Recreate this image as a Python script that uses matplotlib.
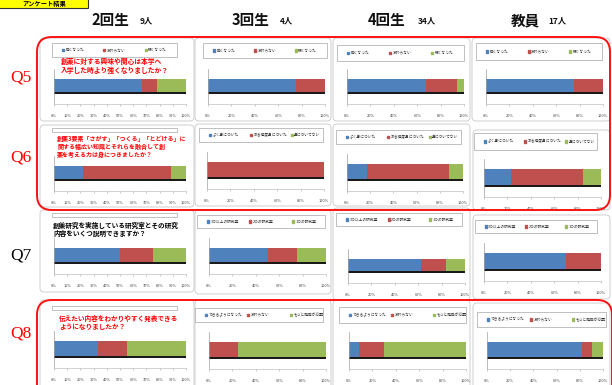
import matplotlib
matplotlib.use("Agg")
import matplotlib.pyplot as plt
from matplotlib.patches import FancyBboxPatch, Rectangle

plt.rcParams["font.family"] = ["Noto Sans CJK JP", "DejaVu Sans"]

W, H = 612, 385

# --- data -------------------------------------------------------------------
GROUPS = ["2回生", "3回生", "4回生", "教員"]
GROUP_N = ["9人", "4人", "34人", "17人"]
QUESTIONS = ["Q5", "Q6", "Q7", "Q8"]
Q_TITLES = [
    "創薬に対する興味や関心は本学へ\n入学した時より強くなりましたか？",
    "創薬3要素「さがす」「つくる」「とどける」に\n関する幅広い知識とそれらを融合して創\n薬を考える力は身につきましたか？",
    "創薬研究を実施している研究室とその研究\n内容をいくつ説明できますか？",
    "伝えたい内容をわかりやすく発表できる\nようになりましたか？",
]
COLORS = ["#4F81BD", "#C0504D", "#9BBB59"]

Q5_LABELS = ["強くなった", "変わらない", "弱くなった"]
Q6_LABELS = ["よく身についた", "ある程度身についた", "身についてない"]
Q7_LABELS = ["3つ以上の研究室", "2つの研究室", "1つの研究室"]
Q8_LABELS = ["できるようになった", "変わらない", "もっと勉強が必要"]

# percent of answers, in order 2回生, 3回生, 4回生, 教員
Q5_A = [66.7, 75.0, 67.6, 75.0]
Q5_B = [11.1, 25.0, 26.5, 25.0]
Q5_C = [22.2, 0.0, 5.9, 0.0]
Q6_A = [22.2, 0.0, 17.6, 23.5]
Q6_B = [66.7, 100.0, 70.6, 61.0]
Q6_C = [11.1, 0.0, 11.8, 15.5]
Q7_A = [50.0, 50.0, 62.5, 70.3]
Q7_B = [25.0, 25.0, 21.6, 29.7]
Q7_C = [25.0, 25.0, 15.9, 0.0]
Q8_A = [33.3, 0.0, 8.8, 82.3]
Q8_B = [22.2, 25.0, 21.5, 8.3]
Q8_C = [44.5, 75.0, 69.7, 9.4]

SERIES = [
    (Q5_LABELS, [Q5_A, Q5_B, Q5_C]),
    (Q6_LABELS, [Q6_A, Q6_B, Q6_C]),
    (Q7_LABELS, [Q7_A, Q7_B, Q7_C]),
    (Q8_LABELS, [Q8_A, Q8_B, Q8_C]),
]

# --- layout (pixels, y down) ------------------------------------------------
PANELS = [
    [(40, 38, 194, 121), (195, 38, 331, 121), (333, 38, 470, 121), (472, 38, 610, 121)],
    [(40, 125, 194, 207), (195, 124, 331, 206), (333, 124, 470, 206), (473, 130, 610, 210)],
    [(40, 210, 194, 292), (195, 210, 331, 294), (333, 208, 470, 300), (473, 215, 610, 299)],
    [(40, 300, 194, 390), (195, 300, 331, 390), (333, 300, 470, 390), (473, 303, 610, 390)],
]
BARS = [
    [(54, 186, 79, 92), (208, 325, 79, 92), (347, 464, 79, 92), (486, 603, 79, 92)],
    [(54, 186, 166, 179), (207, 324, 162, 177), (347, 463, 164, 179), (484, 601, 169, 185)],
    [(54, 186, 248, 262), (209, 326, 248, 262), (348, 465, 259, 271), (484, 601, 253, 269)],
    [(54, 186, 341, 356), (209, 326, 342, 357), (349, 466, 342, 357), (487, 603, 342, 357)],
]
LEGENDS = [
    [(52, 177, 43, 57), (203, 327, 43, 58), (337, 464, 45, 61), (476, 602, 43, 60)],
    [(52, 177, 128, 132), (199, 323, 128, 142), (336, 461, 130, 144), (474, 597, 133, 150)],
    [(52, 177, 213, 217), (197, 325, 215, 228), (336, 462, 213, 226), (475, 597, 220, 233)],
    [(52, 177, 306, 310), (195, 323, 308, 322), (339, 466, 307, 323), (477, 606, 312, 327)],
]
TITLE_POS = [(61, 58), (57, 135), (53, 222), (59, 315)]
TITLE_SIZE = [4.9, 4.3, 4.8, 4.8]
TITLE_COLOR = ["#FF0000", "#FF0000", "#000000", "#FF0000"]
QLABEL_Y = [78, 158, 255, 333]
HEADER_X = [91, 232, 368, 511]
N_X = [140, 280, 418, 548]


def fx(x):
    return x / W


def fy(y):
    return 1 - y / H


def draw_legend(ax, box, labels):
    x0, x1, t, b = box
    ax.add_patch(Rectangle((x0, t), x1 - x0, b - t, facecolor="white",
                           edgecolor="#a6a6a6", lw=0.5, zorder=3))
    if b - t < 8:
        return
    w = x1 - x0
    yc = (t + b) / 2
    for i, (lab, c) in enumerate(zip(labels, COLORS)):
        mx = x0 + w * (0.08 + 0.33 * i)
        ax.add_patch(Rectangle((mx, yc - 1.4), 2.0, 2.8, color=c, zorder=4))
        ax.text(mx + 3.5, yc, lab, fontsize=2.7, va="center", ha="left",
                color="#333333", zorder=4)


def draw_bar(fig, bar, vals, col):
    x0, x1, t, b = bar
    top, base = t - 10, b + 12
    ax = fig.add_axes([fx(x0), fy(base), fx(x1) - fx(x0), (base - top) / H])
    ax.set_facecolor("none")
    hgt = b - t
    yc = 12 + hgt / 2
    ax.barh(yc - 1.6, sum(vals), height=hgt, color="#1a1a1a", linewidth=0, zorder=1)
    left = 0
    for v, c in zip(vals, COLORS):
        ax.barh(yc, v, left=left, height=hgt, color=c, linewidth=0, zorder=2)
        left += v
    ax.set_xlim(0, 100)
    ax.set_ylim(0, base - top)
    step = 10 if col == 0 else 20
    ticks = list(range(0, 101, step))
    ax.set_xticks(ticks)
    ax.set_xticklabels([f"{k}%" for k in ticks], fontsize=2.8, color="#404040")
    ax.set_yticks([])
    ax.tick_params(axis="x", length=1.5, width=0.4, color="#a0a0a0", pad=6)
    for s in ("top", "right"):
        ax.spines[s].set_visible(False)
    ax.spines["left"].set_color("#a0a0a0")
    ax.spines["left"].set_linewidth(0.5)
    ax.spines["bottom"].set_color("#c0c0c0")
    ax.spines["bottom"].set_linewidth(0.5)


fig = plt.figure(figsize=(W / 100, H / 100), dpi=100)
bg = fig.add_axes([0, 0, 1, 1])
bg.set_xlim(0, W)
bg.set_ylim(H, 0)
bg.axis("off")

# top-left banner
bg.add_patch(Rectangle((-2, -2), 90, 10, facecolor="#FFFF00", edgecolor="#333333", lw=0.8))
bg.text(44, 3.6, "アンケート結果", fontsize=4.5, fontweight="bold", va="center", ha="center")

for g, n, hx, nx in zip(GROUPS, GROUP_N, HEADER_X, N_X):
    bg.text(hx, 20, g, fontsize=10.5, fontweight="bold", va="center", ha="left", color="#111111")
    bg.text(nx, 21, n, fontsize=6, fontweight="bold", va="center", ha="left", color="#111111")

for r, q in enumerate(QUESTIONS):
    bg.text(21, QLABEL_Y[r], q, fontsize=12.5, family="Liberation Serif",
            color=TITLE_COLOR[r], ha="center", va="center")
    labels, series = SERIES[r]
    for c in range(4):
        x0, y0, x1, y1 = PANELS[r][c]
        bg.add_patch(FancyBboxPatch((x0, y0), x1 - x0, y1 - y0,
                                    boxstyle="round,pad=0,rounding_size=4",
                                    facecolor="white", edgecolor="#c8c8c8", lw=0.6))
        draw_legend(bg, LEGENDS[r][c], labels if (c > 0 or r == 0) else [])
        draw_bar(fig, BARS[r][c], [s[c] for s in series], c)
    tx, ty = TITLE_POS[r]
    bg.text(tx, ty, Q_TITLES[r], fontsize=TITLE_SIZE[r], fontweight="bold",
            color=TITLE_COLOR[r], ha="left", va="top", linespacing=1.15, zorder=5)

# red highlight frames
top = fig.add_axes([0, 0, 1, 1])
top.set_xlim(0, W)
top.set_ylim(H, 0)
top.axis("off")
top.patch.set_alpha(0)
for (x0, y0, x1, y1) in [(37, 37, 610, 210), (37, 300, 612, 400)]:
    top.add_patch(FancyBboxPatch((x0, y0), x1 - x0, y1 - y0,
                                 boxstyle="round,pad=0,rounding_size=15",
                                 fill=False, edgecolor="#FF1010", lw=1.4))

fig.savefig("out.png", dpi=100)
